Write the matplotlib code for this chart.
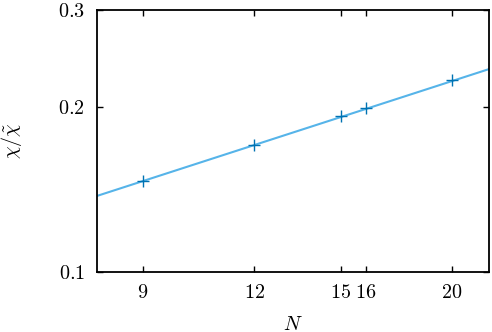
import numpy as np
import matplotlib
matplotlib.use("Agg")
import matplotlib.pyplot as plt
from matplotlib.ticker import FixedLocator, FixedFormatter, NullLocator

plt.rcParams['mathtext.fontset'] = 'cm'
plt.rcParams['font.family'] = 'serif'
plt.rcParams['font.serif'] = ['DejaVu Serif']

N = [9, 12, 15, 16, 20]
ratio = [0.1465, 0.170, 0.192, 0.199, 0.224]
fit_A = 0.04606
fit_b = 0.526
fit_range = [8, 22]
xticks = [9, 12, 15, 16, 20]
yticks = [0.1, 0.2, 0.3]

fig = plt.figure(figsize=(4.92, 3.32), dpi=100)
ax = fig.add_axes([0.197, 0.181, 0.797, 0.789])

Nf = np.geomspace(fit_range[0], fit_range[1], 200)
ax.plot(Nf, fit_A * Nf ** fit_b, color='#56B4E9', lw=1.5, zorder=2)
ax.plot(N, ratio, ls='none', marker='+', ms=8, mew=1.0, color='#0072B2', zorder=3)

ax.set_xscale('log')
ax.set_yscale('log')
ax.set_xlim(fit_range[0], fit_range[1])
ax.set_ylim(0.1, 0.3)

ax.xaxis.set_major_locator(FixedLocator(xticks))
ax.xaxis.set_major_formatter(FixedFormatter([r'$%d$' % t for t in xticks]))
ax.xaxis.set_minor_locator(NullLocator())
ax.yaxis.set_major_locator(FixedLocator(yticks))
ax.yaxis.set_major_formatter(FixedFormatter([r'$%.1f$' % t for t in yticks]))
ax.yaxis.set_minor_locator(NullLocator())

ax.tick_params(which='both', direction='in', top=True, right=True, length=4, width=1.0,
               labelsize=14.5)
ax.tick_params(axis='y', pad=8.5)
ax.tick_params(axis='x', pad=8)
for s in ax.spines.values():
    s.set_linewidth(1.3)

ax.set_xlabel(r'$N$', fontsize=14.5, labelpad=9)
ax.set_ylabel(r'$\chi/\tilde{\chi}$', fontsize=14.5, labelpad=25)

fig.savefig('out.png', dpi=100)
